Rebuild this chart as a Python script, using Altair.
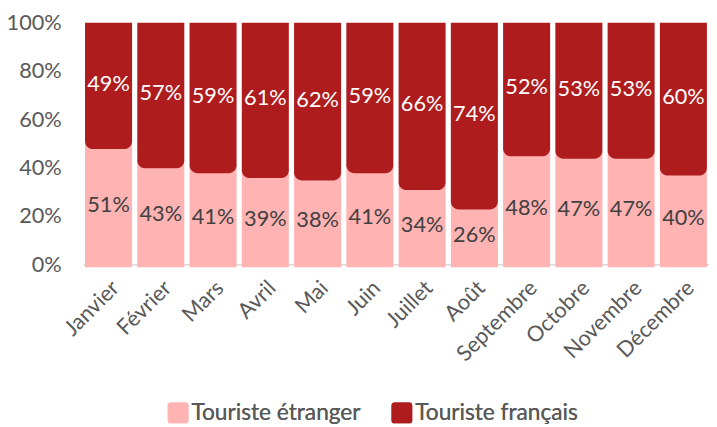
import altair as alt
import pandas as pd

months = ["Janvier", "Février", "Mars", "Avril", "Mai", "Juin", "Juillet",
          "Août", "Septembre", "Octobre", "Novembre", "Décembre"]
etranger = [51, 43, 41, 39, 38, 41, 34, 26, 48, 47, 47, 40]
francais = [49, 57, 59, 61, 62, 59, 66, 74, 52, 53, 53, 60]
series = ["Touriste étranger", "Touriste français"]
colors = ["#FFB3B3", "#AE1C1E"]

rows = []
for m, e, f in zip(months, etranger, francais):
    rows.append({"month": m, "serie": series[0], "lo": 0, "hi": e, "val": e,
                 "mid": e / 2})
    rows.append({"month": m, "serie": series[1], "lo": e, "hi": e + f, "val": f,
                 "mid": e + f / 2})
df = pd.DataFrame(rows)

FONT = "Lato"
GREY = "#595959"
FS = 22

x = alt.X("month:N", sort=months, title=None,
          scale=alt.Scale(paddingInner=0.1, paddingOuter=0.04),
          axis=alt.Axis(labelAngle=-45, labelFontSize=FS, labelColor=GREY,
                        labelFont=FONT, ticks=False, domainColor="#D9D9D9",
                        domainWidth=1.5, labelPadding=13))
yscale = alt.Scale(domain=[0, 100], nice=False)
color = alt.Color("serie:N", scale=alt.Scale(domain=series, range=colors),
                  title=None,
                  legend=alt.Legend(orient="none", legendX=85, legendY=384,
                                    direction="horizontal",
                                    symbolType="M-0.72,-1L0.72,-1Q1,-1 1,-0.72L1,0.72Q1,1 0.72,1L-0.72,1Q-1,1 -1,0.72L-1,-0.72Q-1,-1 -0.72,-1Z",
                                    symbolSize=440, symbolStrokeWidth=0,
                                    symbolOpacity=1,
                                    labelFontSize=23, labelColor=GREY,
                                    labelFont=FONT, labelLimit=400,
                                    labelOffset=2, columnPadding=30,
                                    padding=0))

base = alt.Chart(df).encode(x=x)

pink = base.transform_filter(alt.datum.serie == series[0]).mark_bar(
    y2Offset=3).encode(
    y=alt.Y("hi:Q", scale=yscale, title=None,
            axis=alt.Axis(values=[0, 20, 40, 60, 80, 100],
                          labelExpr="datum.value + '%'", labelFontSize=FS,
                          labelColor=GREY, labelFont=FONT, ticks=False,
                          domain=False, grid=False, labelPadding=22)),
    y2="lo:Q",
    color=color,
)

red = base.transform_filter(alt.datum.serie == series[1]).mark_bar(
    yOffset=8, cornerRadiusBottomLeft=8, cornerRadiusBottomRight=8).encode(
    y=alt.Y("lo:Q", scale=yscale),
    y2="hi:Q",
    color=color,
)

labels = base.transform_calculate(txt="datum.val + '%'").mark_text(
    font=FONT, fontSize=FS, dy=2).encode(
    y=alt.Y("mid:Q", scale=yscale),
    text="txt:N",
    color=alt.Color("serie:N", scale=alt.Scale(domain=series,
                                               range=["#404040", "#FFFFFF"]),
                    legend=None),
)

chart = alt.layer(pink, red, labels).resolve_scale(color="independent").properties(
    width=635, height=245,
    autosize=alt.AutoSizeParams(type="none"),
    padding={"left": 76, "top": 12, "right": 0, "bottom": 162},
).configure_view(stroke=None)

chart.save("out.html", embed_options={"renderer": "svg", "actions": False})
